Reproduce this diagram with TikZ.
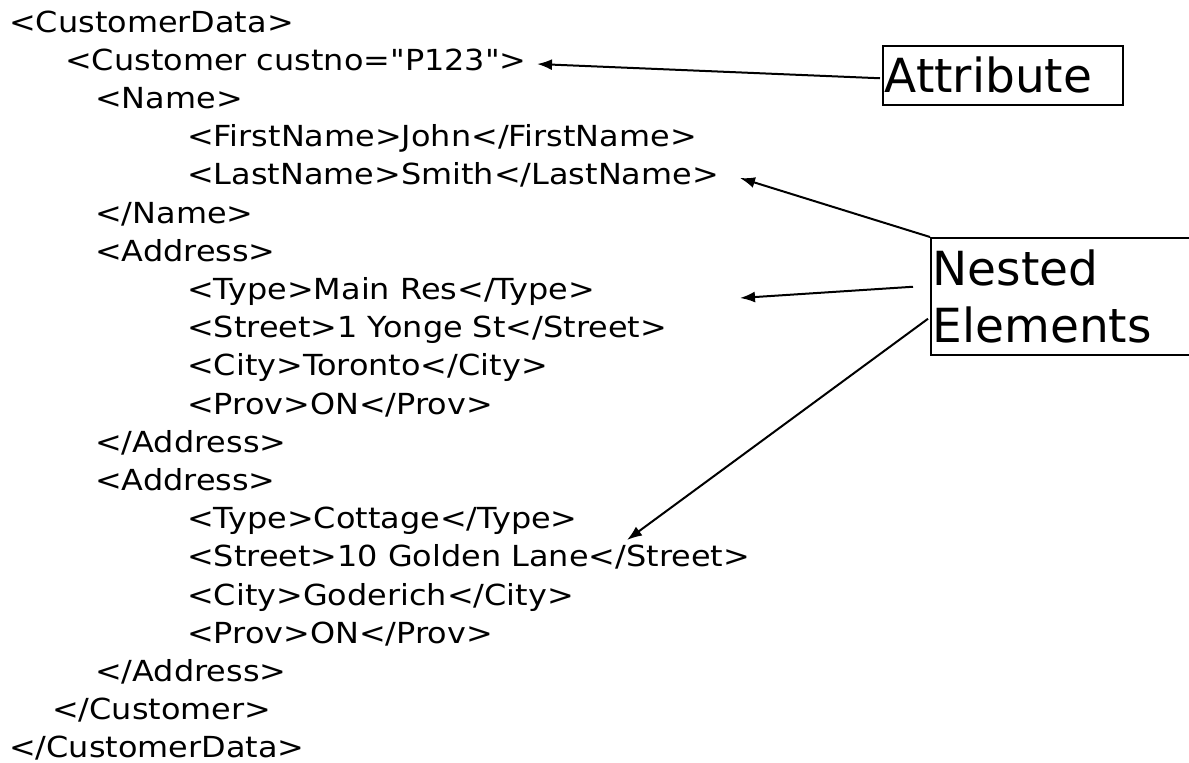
\documentclass[tikz,border=0pt]{standalone}
\usepackage{fontspec}
\setmainfont{DejaVu Sans}
\newfontfamily\xmlfont[FakeStretch=1.1]{DejaVu Sans}
\usetikzlibrary{arrows.meta,calc,positioning}
\tikzset{
	codeline/.style={anchor=base west, inner sep=0pt, font=\xmlfont\fontsize{29}{38}\selectfont},
	labelbox/.style={draw, line width=1.5pt, anchor=north west, align=left,
		inner xsep=2pt, font=\fontsize{47}{57}\selectfont},
	pointer/.style={line width=2pt, -{Latex[length=15pt,width=11pt]}}
}
\begin{document}
\begin{tikzpicture}[x=1pt,y=-1pt]
	\useasboundingbox (0,0) rectangle (1189,763);
	% xml lines
	\node[codeline] (l1) at (9,32) {<CustomerData>};
	\node[codeline] (l2) at (65,70.2) {<Customer custno="P123">};
	\node[codeline] (l3) at (95,108.4) {<Name>};
	\node[codeline] (l4) at (187,146.6) {<FirstName>John</FirstName>};
	\node[codeline] (l5) at (187,184.8) {<LastName>Smith</LastName>};
	\node[codeline] (l6) at (95,223) {</Name>};
	\node[codeline] (l7) at (95,261.2) {<Address>};
	\node[codeline] (l8) at (187,299.4) {<Type>Main Res</Type>};
	\node[codeline] (l9) at (187,337.6) {<Street>1 Yonge St</Street>};
	\node[codeline] (l10) at (187,375.8) {<City>Toronto</City>};
	\node[codeline] (l11) at (187,414) {<Prov>ON</Prov>};
	\node[codeline] (l12) at (95,452.2) {</Address>};
	\node[codeline] (l13) at (95,490.4) {<Address>};
	\node[codeline] (l14) at (187,528.6) {<Type>Cottage</Type>};
	\node[codeline] (l15) at (187,566.8) {<Street>10 Golden Lane</Street>};
	\node[codeline] (l16) at (187,605) {<City>Goderich</City>};
	\node[codeline] (l17) at (187,643.2) {<Prov>ON</Prov>};
	\node[codeline] (l18) at (95,681.4) {</Address>};
	\node[codeline] (l19) at (52,719.6) {</Customer>};
	\node[codeline] (l20) at (9,757.8) {</CustomerData>};
	% label boxes
	\node[labelbox,
	text width=236pt,
	minimum height=59pt] (attr) at (882,45) {Attribute};
	\node[labelbox,
	text width=300pt,
	minimum height=117pt] (nested) at (930,237) {Nested\\Elements};
	% arrow ends
	\coordinate (tip1) at (537,64);
	\coordinate (tip2) at (740,178);
	\coordinate (tip3) at (740,298);
	\coordinate (tip4) at (627,540);
	% Arrows
	\draw[pointer] ($(attr.west)+(-2,3)$) -- (tip1);
	\draw[pointer] (nested.north west) -- (tip2);
	\draw[pointer] ($(nested.west)+(-17,-9.5)$) -- (tip3);
	\draw[pointer] ($(nested.west)+(-2,22.5)$) -- (tip4);
\end{tikzpicture}
\end{document}
